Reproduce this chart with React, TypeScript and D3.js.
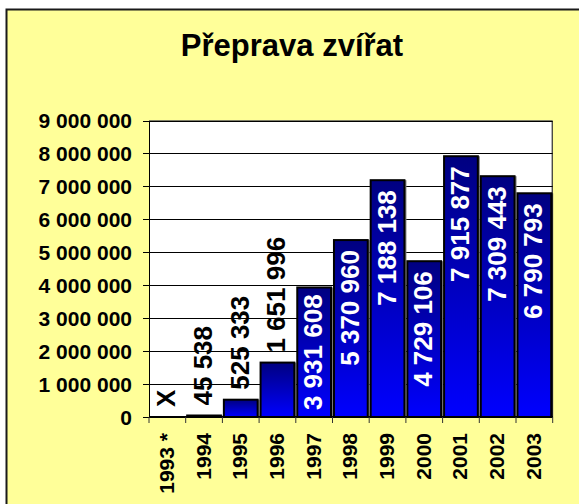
import { useRef, useEffect } from 'react';
import * as d3 from 'd3';

const W = 579;
const H = 504;
const FONT = '"Liberation Sans", Arial, sans-serif';

const years = ['1993 *', '1994', '1995', '1996', '1997', '1998', '1999', '2000', '2001', '2002', '2003'];
const values = [0, 45538, 525333, 1651996, 3931608, 5370960, 7188138, 4729106, 7915877, 7309443, 6790793];
const labels = ['X', '45 538', '525 333', '1 651 996', '3 931 608', '5 370 960', '7 188 138', '4 729 106', '7 915 877', '7 309 443', '6 790 793'];
const yTicks = [0, 1000000, 2000000, 3000000, 4000000, 5000000, 6000000, 7000000, 8000000, 9000000];

const PLOT = { left: 149, right: 552.7, top: 120.5, bottom: 417 };

const fmt = (v: number) => d3.format(',')(v).replace(/,/g, ' ');

export default function App() {
  const svgRef = useRef<SVGSVGElement>(null);

  useEffect(() => {
    document.body.style.margin = '0';
    const svg = d3.select(svgRef.current);
    svg.selectAll('*').remove();

    const x = d3.scaleBand().domain(years).range([PLOT.left, PLOT.right]).paddingInner(0.08).paddingOuter(0.04);
    const y = d3.scaleLinear().domain([0, 9000000]).range([PLOT.bottom, PLOT.top]);
    const step = (PLOT.right - PLOT.left) / years.length;

    // background + frame
    svg.append('rect').attr('width', W).attr('height', H).attr('fill', '#fff');
    svg.append('rect')
      .attr('x', 6.5).attr('y', 9.5).attr('width', 620).attr('height', 620)
      .attr('fill', '#FFFF99').attr('stroke', '#1a1a1a').attr('stroke-width', 2);

    // title
    svg.append('text')
      .attr('x', 292).attr('y', 56)
      .attr('text-anchor', 'middle')
      .attr('font-family', FONT).attr('font-weight', 'bold').attr('font-size', 31)
      .text('Přeprava zvířat');

    // plot area
    svg.append('rect')
      .attr('x', PLOT.left).attr('y', PLOT.top)
      .attr('width', PLOT.right - PLOT.left).attr('height', PLOT.bottom - PLOT.top)
      .attr('fill', '#fff');

    // gridlines
    svg.append('g').selectAll('line').data(yTicks.slice(1)).join('line')
      .attr('x1', PLOT.left).attr('x2', PLOT.right)
      .attr('y1', (d) => Math.round(y(d)) + 0.5).attr('y2', (d) => Math.round(y(d)) + 0.5)
      .attr('stroke', '#000').attr('stroke-width', 1);

    // gradient
    const defs = svg.append('defs');
    const grad = defs.append('linearGradient').attr('id', 'barGrad')
      .attr('x1', 0).attr('y1', 0).attr('x2', 0).attr('y2', 1);
    grad.append('stop').attr('offset', '0%').attr('stop-color', '#000080');
    grad.append('stop').attr('offset', '100%').attr('stop-color', '#0000FF');

    // bars
    const bars = svg.append('g');
    years.forEach((yr, i) => {
      const v = values[i];
      if (!v) return;
      const bx = x(yr)!;
      const bw = x.bandwidth();
      const top = y(v);
      bars.append('rect')
        .attr('x', bx + 2).attr('y', top)
        .attr('width', bw).attr('height', PLOT.bottom - top)
        .attr('fill', '#7f7f7f');
      bars.append('rect')
        .attr('x', bx).attr('y', top)
        .attr('width', bw).attr('height', PLOT.bottom - top)
        .attr('fill', 'url(#barGrad)')
        .attr('stroke', '#000').attr('stroke-width', 2);
    });

    // plot border
    svg.append('rect')
      .attr('x', PLOT.left + 0.5).attr('y', PLOT.top + 0.5)
      .attr('width', PLOT.right - PLOT.left - 1).attr('height', PLOT.bottom - PLOT.top)
      .attr('fill', 'none').attr('stroke', '#000').attr('stroke-width', 1);

    // y axis
    const yAxis = svg.append('g');
    yAxis.selectAll('line').data(yTicks).join('line')
      .attr('x1', PLOT.left - 6).attr('x2', PLOT.left)
      .attr('y1', (d) => Math.round(y(d)) + 0.5).attr('y2', (d) => Math.round(y(d)) + 0.5)
      .attr('stroke', '#000');
    yAxis.selectAll('text').data(yTicks).join('text')
      .attr('x', 132).attr('y', (d) => y(d))
      .attr('text-anchor', 'end').attr('dominant-baseline', 'central')
      .attr('font-family', FONT).attr('font-weight', 'bold').attr('font-size', 21)
      .text((d) => fmt(d));

    // x axis
    svg.append('line')
      .attr('x1', PLOT.left).attr('x2', PLOT.right)
      .attr('y1', PLOT.bottom).attr('y2', PLOT.bottom)
      .attr('stroke', '#000').attr('stroke-width', 2);
    const xAxis = svg.append('g');
    xAxis.selectAll('line').data(d3.range(years.length + 1)).join('line')
      .attr('x1', (d) => PLOT.left + d * step).attr('x2', (d) => PLOT.left + d * step)
      .attr('y1', PLOT.bottom).attr('y2', PLOT.bottom + 6)
      .attr('stroke', '#333');
    xAxis.selectAll('text').data(years).join('text')
      .attr('transform', (d) => `translate(${x(d)! + x.bandwidth() / 2 - 1},433) rotate(-90)`)
      .attr('text-anchor', 'end').attr('dominant-baseline', 'central')
      .attr('font-family', FONT).attr('font-weight', 'bold').attr('font-size', 21)
      .text((d) => d);

    // value labels
    const lbl = svg.append('g');
    years.forEach((yr, i) => {
      const v = values[i];
      const cx = x(yr)! + x.bandwidth() / 2 - 1;
      const top = y(v);
      const t = lbl.append('text')
        .attr('dominant-baseline', 'central')
        .attr('font-family', FONT).attr('font-weight', 'bold').attr('font-size', 26)
        .text(labels[i]);
      const len = (t.node() as SVGTextElement).getComputedTextLength();
      const h = PLOT.bottom - top;
      if (len + 12 < h) {
        const off = Math.min(10, (h - len) / 2);
        t.attr('transform', `translate(${cx},${top + off}) rotate(-90)`)
          .attr('text-anchor', 'end').attr('fill', '#fff');
      } else {
        t.attr('transform', `translate(${cx},${top - 10}) rotate(-90)`)
          .attr('text-anchor', 'start').attr('fill', '#000');
      }
    });
  }, []);

  return <svg ref={svgRef} width={W} height={H} style={{ display: 'block' }} />;
}
